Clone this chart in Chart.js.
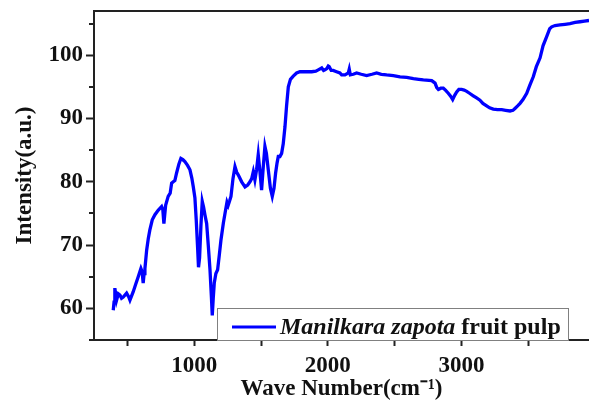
<!DOCTYPE html>
<html><head><meta charset="utf-8">
<script src="https://cdn.jsdelivr.net/npm/chart.js@4/dist/chart.umd.min.js"></script>
<style>html,body{margin:0;padding:0;background:#fff}#wrap{width:589px;height:400px}</style>
</head><body><div id="wrap"><canvas id="c" width="589" height="400"></canvas></div>
<script>
const waveNumbers = [394,400,406,419,432,444,456,469,494,510,519,543,562,581,601,610,618,625,631,644,656,668,686,706,730,756,765,773,786,805,820,831,843,855,868,885,900,915,930,950,968,982,993,1005,1015,1025,1032,1040,1050,1060,1070,1080,1093,1105,1118,1128,1135,1142,1150,1162,1175,1188,1200,1218,1235,1245,1254,1265,1275,1290,1305,1318,1329,1355,1380,1400,1417,1430,1442,1454,1467,1479,1490,1504,1517,1529,1540,1554,1570,1584,1597,1609,1620,1629,1641,1654,1666,1679,1691,1704,1720,1741,1766,1791,1830,1879,1910,1928,1954,1968,1978,1992,2003,2010,2025,2040,2065,2090,2103,2128,2153,2160,2168,2190,2215,2250,2290,2330,2365,2400,2440,2490,2540,2590,2640,2680,2714,2777,2802,2815,2827,2845,2864,2880,2901,2920,2934,2950,2964,2980,3001,3020,3039,3060,3088,3110,3138,3160,3188,3210,3238,3270,3301,3330,3363,3385,3400,3420,3438,3460,3488,3510,3537,3560,3588,3610,3638,3660,3675,3700,3737,3775,3812,3850,3887,3920,3954];
const intensity = [59.7,61.0,63.2,61.3,62.3,62.1,61.6,61.8,62.4,61.8,61.3,62.6,63.8,65.0,66.3,65.8,64.0,65.5,66.3,69.2,71.0,72.4,74.0,74.8,75.5,76.1,75.6,73.4,76.3,77.7,78.2,79.8,80.0,80.2,81.4,82.8,83.7,83.5,83.2,82.6,81.9,80.6,79.2,77.5,74.0,69.7,66.5,68.0,73.0,76.9,76.0,74.8,73.4,70.0,66.1,62.0,58.9,61.5,64.0,65.5,66.1,68.5,70.8,73.5,75.6,76.8,76.3,77.0,77.7,80.5,82.4,81.5,81.1,80.0,79.2,79.5,80.0,80.5,81.6,80.3,82.0,84.3,82.0,78.7,82.5,85.6,84.5,81.9,79.0,77.7,79.0,81.4,83.0,84.0,84.0,84.5,86.0,88.7,92.0,95.0,96.2,96.7,97.2,97.4,97.4,97.4,97.5,97.7,98.0,97.6,97.7,97.9,98.3,98.2,97.6,97.6,97.4,97.2,96.9,96.9,97.2,97.8,96.9,97.0,97.2,97.0,96.8,97.0,97.2,97.0,96.9,96.8,96.6,96.5,96.3,96.2,96.1,96.0,95.6,94.9,94.6,94.8,94.8,94.5,94.0,93.5,93.0,93.7,94.2,94.6,94.6,94.5,94.3,94.0,93.6,93.3,92.9,92.4,92.0,91.7,91.5,91.4,91.4,91.3,91.2,91.3,91.6,92.0,92.4,93.0,94.0,95.2,96.6,98.2,99.6,101.5,103.0,104.2,104.5,104.7,104.8,104.9,105.0,105.2,105.3,105.4,105.5];
const xTickValues = [500,1000,1500,2000,2500,3000,3500];
const xTickLabels = ['1000','2000','3000'];
const yTickLabels = ['60','70','80','90','100'];
const seriesName = 'Manilkara zapota fruit pulp';
const seriesItalicPart = 'Manilkara zapota';
const seriesPlainPart = ' fruit pulp';
const xTitle = 'Wave Number(cm\u207B\u00B9)';
const yTitle = 'Intensity(a.u.)';

const FONT = 'Liberation Serif';
const INK = '#111111';
const AXIS = '#222222';
const BLUE = '#0000FF';

const points = waveNumbers.map((w, i) => ({x: w, y: intensity[i]}));

const framePlugin = {
  id: 'frame',
  afterDraw(chart) {
    const ctx = chart.ctx;
    const a = chart.chartArea;
    const ys = chart.scales.y;
    ctx.save();
    ctx.strokeStyle = AXIS;
    ctx.lineWidth = 2;
    ctx.beginPath();
    ctx.moveTo(a.left - 1, a.top);
    ctx.lineTo(a.right, a.top);
    ctx.stroke();
    ys.ticks.forEach(t => {
      if (t.value % 10 !== 0) {
        const py = Math.round(ys.getPixelForValue(t.value));
        ctx.beginPath();
        ctx.moveTo(a.left - 5, py);
        ctx.lineTo(a.left, py);
        ctx.stroke();
      }
    });
    const bx = a.left + 123, by = a.bottom - 32, bw = 351, bh = 32;
    ctx.fillStyle = '#ffffff';
    ctx.fillRect(bx, by, bw, bh);
    ctx.strokeStyle = '#808080';
    ctx.lineWidth = 1;
    ctx.strokeRect(bx + 0.5, by + 0.5, bw, bh);
    const ds = chart.data.datasets[0];
    ctx.strokeStyle = ds.borderColor;
    ctx.lineWidth = 3;
    ctx.beginPath();
    ctx.moveTo(bx + 15, by + 19);
    ctx.lineTo(bx + 59, by + 19);
    ctx.stroke();
    ctx.fillStyle = INK;
    ctx.textBaseline = 'alphabetic';
    ctx.textAlign = 'left';
    let tx = bx + 63;
    const ty = by + 26;
    ctx.font = 'italic bold 24px "' + FONT + '"';
    ctx.fillText(seriesItalicPart, tx, ty);
    tx += ctx.measureText(seriesItalicPart).width;
    ctx.font = 'bold 24px "' + FONT + '"';
    ctx.fillText(seriesPlainPart, tx, ty);
    ctx.restore();
  }
};

new Chart(document.getElementById('c'), {
  type: 'line',
  data: {
    datasets: [{
      label: seriesName,
      data: points,
      borderColor: BLUE,
      backgroundColor: BLUE,
      borderWidth: 3.3,
      pointRadius: 0,
      tension: 0,
      fill: false,
      clip: false
    }]
  },
  options: {
    responsive: false,
    animation: false,
    devicePixelRatio: 1,
    layout: {padding: {top: 11, left: 0, right: 0, bottom: 0}},
    plugins: {legend: {display: false}, tooltip: {enabled: false}},
    scales: {
      x: {
        type: 'linear', min: 250, max: 3954, position: 'bottom',
        afterBuildTicks(s) { s.ticks = xTickValues.map(v => ({value: v})); },
        ticks: {
          autoSkip: false, maxRotation: 0, padding: 6,
          color: INK, font: {family: FONT, size: 23, weight: 'bold'},
          callback: v => xTickLabels.includes(String(v)) ? String(v) : ''
        },
        grid: {drawOnChartArea: false, drawTicks: true, tickLength: 6, tickWidth: 2, tickColor: AXIS},
        border: {display: true, color: AXIS, width: 2},
        title: {display: true, text: xTitle, color: INK, font: {family: FONT, size: 23, weight: 'bold'}, padding: {top: 0, bottom: -3}},
        afterFit(s) { s.height = 60; s.paddingLeft = 0; s.paddingRight = 0; }
      },
      y: {
        type: 'linear', min: 55, max: 107, position: 'left',
        ticks: {
          stepSize: 5, includeBounds: false, autoSkip: false, padding: 3,
          color: INK, font: {family: FONT, size: 23, weight: 'bold'},
          callback: v => yTickLabels.includes(String(v)) ? String(v) : ''
        },
        grid: {
          drawOnChartArea: false, drawTicks: true, tickLength: 8, tickWidth: 2,
          tickColor: c => (c.tick && c.tick.value % 10 === 0) ? AXIS : 'rgba(0,0,0,0)'
        },
        border: {display: true, color: AXIS, width: 2},
        title: {display: true, text: yTitle, color: INK, font: {family: FONT, size: 23, weight: 'bold'}, padding: {top: 11, bottom: 0}},
        afterFit(s) { s.width = 94; s.paddingTop = 0; s.paddingBottom = 0; }
      }
    }
  },
  plugins: [framePlugin]
});
</script>
</body></html>
